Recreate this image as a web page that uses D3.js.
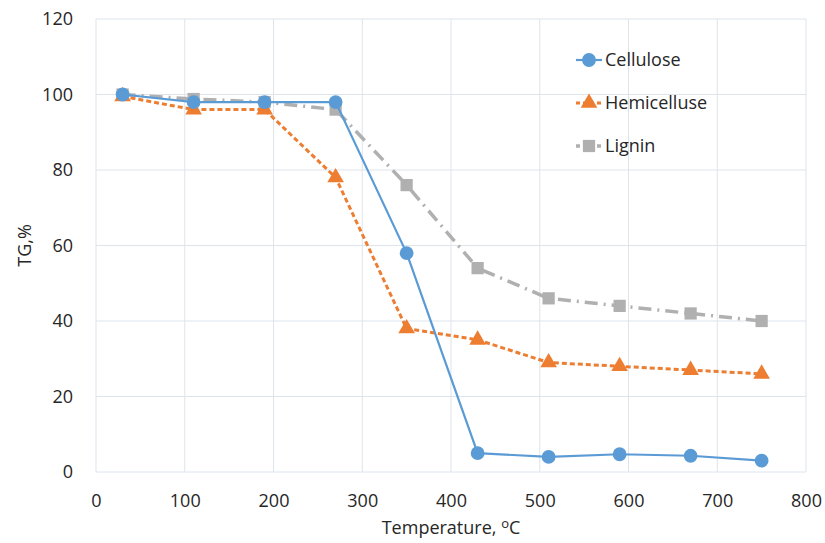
<!DOCTYPE html>
<html>
<head>
<meta charset="utf-8">
<script src="https://cdn.jsdelivr.net/npm/d3@7"></script>
<style>
  body { margin: 0; background: #fff; }
  text { font-family: "Open Sans", sans-serif; fill: #262626; }
</style>
</head>
<body>
<div class="graphic"></div>
<script>
// data
var temps = [30, 110, 190, 270, 350, 430, 510, 590, 670, 750];
var cellulose = [100, 98, 98, 98, 58, 5, 4, 4.7, 4.3, 3];
var hemicelluse = [99.5, 96, 96, 78, 38, 35, 29, 28, 27, 26];
var lignin = [100, 98.8, 98, 96, 76, 54, 46, 44, 42, 40];
var xTicks = [0, 100, 200, 300, 400, 500, 600, 700, 800];
var yTicks = [0, 20, 40, 60, 80, 100, 120];

var width = 825, height = 543;
var margin = { top: 19, right: 19, bottom: 71, left: 96 };
var fontSize = "18px";

var svg = d3.select(".graphic")
  .append("svg")
  .attr("width", width)
  .attr("height", height);

var x = d3.scaleLinear().domain([0, 800]).range([margin.left, width - margin.right]);
var y = d3.scaleLinear().domain([0, 120]).range([height - margin.bottom, margin.top]);

// grid
svg.append("g")
  .selectAll("line")
  .data(yTicks)
  .join("line")
  .attr("x1", x(0)).attr("x2", x(800))
  .attr("y1", d => y(d)).attr("y2", d => y(d))
  .attr("stroke", "#dde4ec").attr("stroke-width", 1);

svg.append("g")
  .selectAll("line")
  .data(xTicks)
  .join("line")
  .attr("y1", y(0)).attr("y2", y(120))
  .attr("x1", d => x(d)).attr("x2", d => x(d))
  .attr("stroke", "#dde4ec").attr("stroke-width", 1);

// axes (labels only)
var xAxis = svg.append("g")
  .attr("transform", `translate(0,${y(0)})`)
  .call(d3.axisBottom(x).tickValues(xTicks).tickSize(0).tickPadding(22));
var yAxis = svg.append("g")
  .attr("transform", `translate(${x(0)},0)`)
  .call(d3.axisLeft(y).tickValues(yTicks).tickSize(0).tickPadding(23));
[xAxis, yAxis].forEach(a => {
  a.select(".domain").remove();
  a.selectAll("text").style("font-size", fontSize).attr("fill", "#262626")
    .style("font-family", "'Open Sans', sans-serif");
});

svg.append("text")
  .attr("transform", `translate(31,${(y(0) + y(120)) / 2}) rotate(-90)`)
  .attr("text-anchor", "middle")
  .style("font-size", fontSize)
  .text("TG,%");

var xt = svg.append("text")
  .attr("x", (x(0) + x(800)) / 2)
  .attr("y", 534)
  .attr("text-anchor", "middle")
  .style("font-size", fontSize);
xt.append("tspan").text("Temperature, ");
xt.append("tspan").attr("dy", -6).style("font-size", "13px").text("o");
xt.append("tspan").attr("dy", 6).text("C");

var series = [
  { name: "Cellulose", values: cellulose, color: "#5b9bd5", dash: null, width: 2.2, shape: d3.symbolCircle, size: 150 },
  { name: "Hemicelluse", values: hemicelluse, color: "#ed7d31", dash: "5,3", width: 3, shape: d3.symbolTriangle, size: 120 },
  { name: "Lignin", values: lignin, color: "#b0b0b0", dash: "13,6,2,6", width: 3.5, shape: d3.symbolSquare, size: 150 }
];

var line = d3.line()
  .x((d, i) => x(temps[i]))
  .y(d => y(d));

// draw lignin first, then hemicelluse, then cellulose on top
[series[2], series[1], series[0]].forEach(s => {
  svg.append("path")
    .datum(s.values)
    .attr("d", line)
    .attr("fill", "none")
    .attr("stroke", s.color)
    .attr("stroke-width", s.width)
    .attr("stroke-dasharray", s.dash);
  svg.append("g")
    .selectAll("path")
    .data(s.values)
    .join("path")
    .attr("transform", (d, i) => `translate(${x(temps[i])},${y(d)})`)
    .attr("d", d3.symbol().type(s.shape).size(s.size))
    .attr("fill", s.color);
});

// legend
var legend = svg.append("g").attr("transform", "translate(576,60)");
series.forEach((s, i) => {
  var g = legend.append("g").attr("transform", `translate(0,${i * 43})`);
  g.append("line")
    .attr("x1", 0).attr("x2", 26)
    .attr("stroke", s.color)
    .attr("stroke-width", s.width)
    .attr("stroke-dasharray", s.dash ? "4,3" : null);
  g.append("path")
    .attr("transform", "translate(13,0)")
    .attr("d", d3.symbol().type(s.shape).size(s.size))
    .attr("fill", s.color);
  g.append("text")
    .attr("x", 29).attr("y", 6)
    .style("font-size", fontSize)
    .text(s.name);
});
</script>
</body>
</html>
